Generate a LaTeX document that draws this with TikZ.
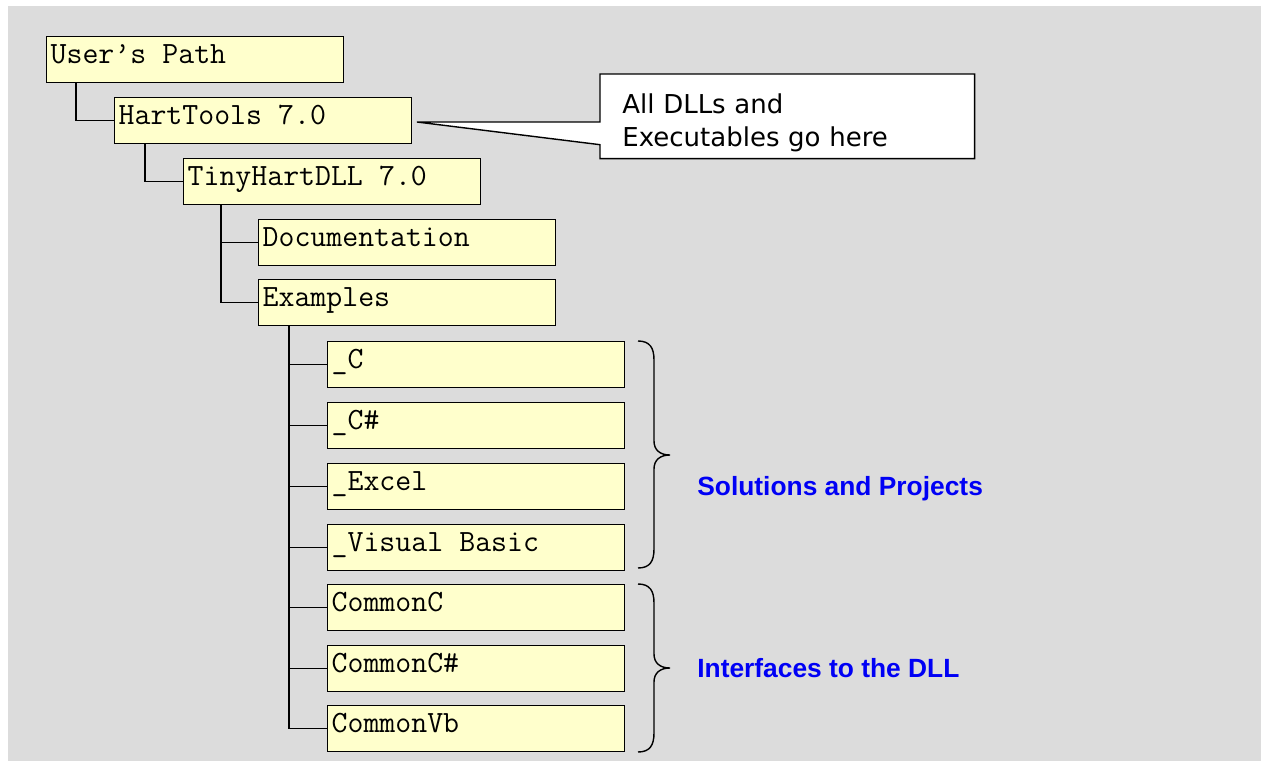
\documentclass[tikz,border=0pt]{standalone}
\usepackage{fontspec}
\newfontfamily\notefont{DejaVu Sans}
\newfontfamily\groupfont{Liberation Sans}
\usepackage{tikz}
\usetikzlibrary{calc}
\definecolor{bggray}{RGB}{220,220,220}
\definecolor{folderyellow}{RGB}{255,255,204}
\definecolor{groupblue}{RGB}{0,0,245}
\newcommand\folderfont{\ttfamily\fontsize{17.6}{20}\selectfont\fontdimen2\font=0.525em\relax}
\newcommand\monospace{\spaceskip=0.525em\relax}

\begin{document}
\begin{tikzpicture}[x=0.02cm,y=-0.02cm,folder/.style={rectangle,draw,line width=0.8pt,fill=folderyellow,anchor=north west,inner xsep=0.08cm,inner ysep=0pt,text width=5.78cm,text height=0.54cm,text depth=0.38cm,font=\folderfont,execute at begin node=\monospace},link/.style={line width=0.9pt},note/.style={rectangle,fill=white,anchor=north west,inner xsep=0.44cm,inner ysep=0pt,text width=6.60cm,text height=0.78cm,text depth=0.90cm,align=left,font=\notefont\fontsize{14.8}{18.9}\selectfont},group/.style={anchor=base west,inner sep=0pt,text=groupblue,font=\groupfont\bfseries\fontsize{15}{18}\selectfont},curly/.style={line width=0.8pt}]
\useasboundingbox (0,0) rectangle (1261,761);
\fill[bggray] (8,6) rectangle (1261,761);
% folder tree
\node[folder] (users) at (46,36) {User’s Path};
\node[folder] (hart) at (114,97) {HartTools 7.0};
\node[folder] (tiny) at (183,158) {TinyHartDLL 7.0};
\node[folder] (doc) at (258,219) {Documentation};
\node[folder] (ex) at (258,279) {Examples};
\node[folder] (c) at (327,341) {\_C};
\node[folder] (cs) at (327,402) {\_C\#};
\node[folder] (excel) at (327,463) {\_Excel};
\node[folder] (vb) at (327,524) {\_Visual Basic};
\node[folder] (cc) at (327,584) {CommonC};
\node[folder] (ccs) at (327,645) {CommonC\#};
\node[folder] (cvb) at (327,705) {CommonVb};
\draw[link] ($(users.south west)+(30,0)$) |- (hart.west);
\draw[link] ($(hart.south west)+(31,0)$) |- (tiny.west);
\draw[link] ($(tiny.south west)+(38,0)$) |- (doc.west);
\draw[link] ($(tiny.south west)+(38,0)$) |- (ex.west);
\foreach \n in {c,cs,excel,vb,cc,ccs,cvb}
  \draw[link] ($(ex.south west)+(31,0)$) |- (\n.west);
% callout
\node[note] (note) at (600,74) {All DLLs and\\Executables go here};
\coordinate (tip) at (417,122);
\fill[white] ($(note.north west)+(0,48)$) -- (tip) -- ($(note.south west)+(0,-14)$) -- cycle;
\draw[line width=0.8pt] ($(note.north west)+(0,48)$) -- (tip) -- ($(note.south west)+(0,-14)$) -- (note.south west) -- (note.south east) -- (note.north east) -- (note.north west) -- cycle;
% braces
\draw[curly] (638,341) .. controls (650,341) and (654,348) .. (654,360) -- (654,441) .. controls (654,450) and (660,455) .. (670,455) .. controls (660,455) and (654,460) .. (654,469) -- (654,549) .. controls (654,561) and (650,568) .. (638,568);
\draw[curly] (638,584) .. controls (650,584) and (654,591) .. (654,603) -- (654,654) .. controls (654,663) and (660,668) .. (670,668) .. controls (660,668) and (654,673) .. (654,682) -- (654,733) .. controls (654,745) and (650,752) .. (638,752);
\node[group] (solutions) at (697,495) {Solutions and Projects};
\node[group] (interfaces) at (697,677) {Interfaces to the DLL};
\end{tikzpicture}
\end{document}
